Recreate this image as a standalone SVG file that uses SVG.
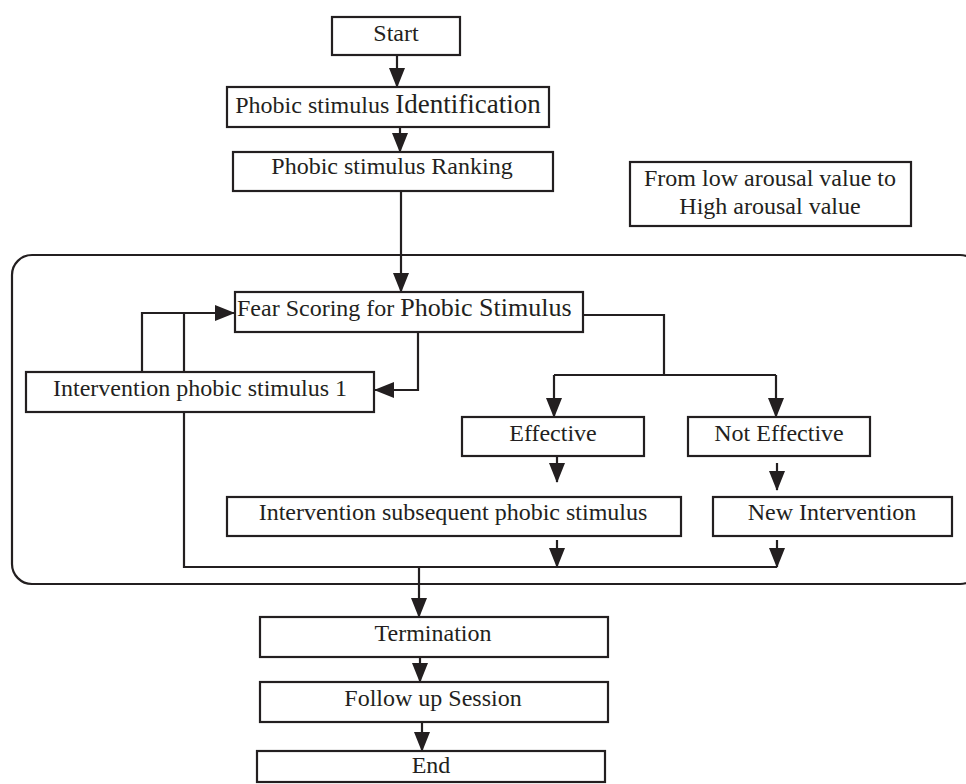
<svg xmlns="http://www.w3.org/2000/svg" width="966" height="784" viewBox="0 0 966 784">
<style>
  .box { fill: #ffffff; stroke: #231f20; stroke-width: 2.2; }
  .frame { fill: none; stroke: #231f20; stroke-width: 2.2; }
  .ln { fill: none; stroke: #231f20; stroke-width: 2.2; }
  .ar { fill: none; stroke: #231f20; stroke-width: 2.2; marker-end: url(#ah); }
  text { font-family: "Liberation Serif", "Times New Roman", serif; font-size: 24px; fill: #231f20; }
  .c { text-anchor: middle; }
  .big { font-size: 27px; }
</style>
<defs>
  <marker id="ah" markerUnits="userSpaceOnUse" markerWidth="20" markerHeight="16" viewBox="0 0 20 16" refX="19" refY="8" orient="auto">
    <path d="M0,0 L20,8 L0,16 Z" fill="#231f20"/>
  </marker>
</defs>

<rect class="frame" x="12" y="255" width="968" height="329" rx="20" ry="20"/>

<g id="connectors">
  <path class="ar" d="M397,55 V87"/>
  <path class="ar" d="M400,127 V152"/>
  <path class="ar" d="M401,191 V292"/>
  <path class="ar" d="M142,372 V313 H234"/>
  <path class="ln" d="M184,372 V313"/>
  <path class="ar" d="M418,332 V390 H375"/>
  <path class="ln" d="M184,412 V567 H777"/>
  <path class="ln" d="M583,315 H664 V375"/>
  <path class="ln" d="M554,375 H776"/>
  <path class="ar" d="M554,375 V417"/>
  <path class="ar" d="M776,375 V417"/>
  <path class="ar" d="M557,456 V482"/>
  <path class="ar" d="M777,463 V490"/>
  <path class="ar" d="M557,540 V567"/>
  <path class="ar" d="M777,540 V567"/>
  <path class="ar" d="M419,567 V617"/>
  <path class="ar" d="M420,657 V682"/>
  <path class="ar" d="M422,722 V751"/>
</g>

<g id="start">
  <rect class="box" x="332" y="17" width="128" height="38"/>
  <text class="c" x="396" y="41">Start</text>
</g>
<g id="identification">
  <rect class="box" x="227" y="87" width="322" height="40"/>
  <text class="c" x="388" y="113">Phobic stimulus <tspan class="big">Identification</tspan></text>
</g>
<g id="ranking">
  <rect class="box" x="233" y="152" width="320" height="39"/>
  <text class="c" x="392" y="174">Phobic stimulus Ranking</text>
</g>
<g id="arousal">
  <rect class="box" x="630" y="162" width="281" height="64"/>
  <text class="c" x="770" y="186">From low arousal value to</text>
  <text class="c" x="770" y="214">High arousal value</text>
</g>
<g id="fear">
  <rect class="box" x="235" y="292" width="348" height="40"/>
  <text x="237" y="316">Fear Scoring for <tspan style="font-size:26px">Phobic Stimulus</tspan></text>
</g>
<g id="intervention1">
  <rect class="box" x="26" y="372" width="348" height="40"/>
  <text class="c" x="200" y="396">Intervention phobic stimulus 1</text>
</g>
<g id="effective">
  <rect class="box" x="462" y="417" width="182" height="39"/>
  <text class="c" x="553" y="441">Effective</text>
</g>
<g id="not-effective">
  <rect class="box" x="688" y="417" width="182" height="39"/>
  <text class="c" x="779" y="441">Not Effective</text>
</g>
<g id="subsequent">
  <rect class="box" x="227" y="497" width="454" height="39"/>
  <text class="c" x="453" y="520">Intervention subsequent phobic stimulus</text>
</g>
<g id="new-intervention">
  <rect class="box" x="713" y="497" width="239" height="39"/>
  <text class="c" x="832" y="520">New Intervention</text>
</g>
<g id="termination">
  <rect class="box" x="260" y="617" width="348" height="40"/>
  <text class="c" x="433" y="641">Termination</text>
</g>
<g id="followup">
  <rect class="box" x="260" y="682" width="348" height="40"/>
  <text class="c" x="433" y="706">Follow up Session</text>
</g>
<g id="end">
  <rect class="box" x="257" y="751" width="348" height="31"/>
  <text class="c" x="431" y="773">End</text>
</g>
</svg>
